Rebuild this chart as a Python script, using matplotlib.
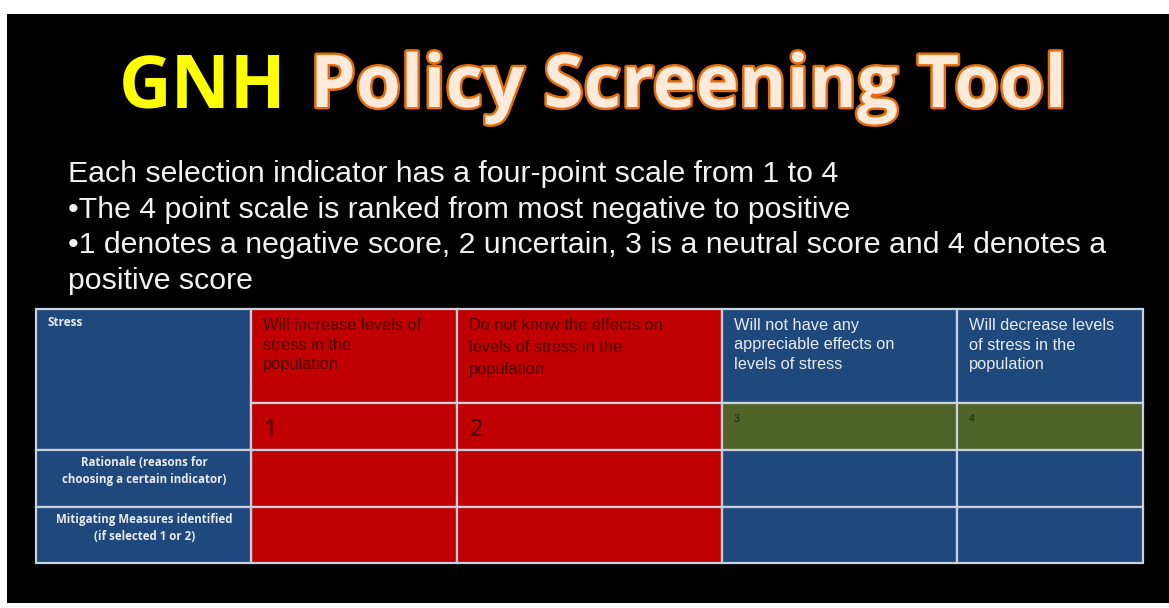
import matplotlib
matplotlib.use("Agg")
import matplotlib.pyplot as plt
from matplotlib.patches import Rectangle
import matplotlib.patheffects as pe

# ---------------- data ----------------
title_a = "GNH"
title_b = "Policy Screening Tool"
bullets = [
    "Each selection indicator has a four-point scale from 1 to 4",
    "\u2022The 4 point scale is ranked from most negative to positive",
    "\u20221 denotes a negative score, 2 uncertain, 3 is a neutral score and 4 denotes a",
    "positive score",
]
indicator = "Stress"
col_headers = [
    ["Will increase levels of", "stress in the", "population"],
    ["Do not know the effects on", "levels of stress in the", "population"],
    ["Will not have any", "appreciable effects on", "levels of stress"],
    ["Will decrease levels", "of stress in the", "population"],
]
scores = ["1", "2", "3", "4"]
row_labels = [
    "Rationale (reasons for\nchoosing a certain indicator)",
    "Mitigating Measures identified\n(if selected 1 or 2)",
]
col_kind = ["neg", "neg", "pos", "pos"]

# ---------------- style / layout ----------------
W, H = 1169, 608
BLUE = "#1F497D"
RED = "#C00000"
GREEN = "#4F6228"
LINE = "#C9D1DE"
col_x = [36, 251, 457, 722, 957, 1143]
row_y = [309, 403, 450, 507, 563]

fig = plt.figure(figsize=(W / 100, H / 100), dpi=100)
fig.patch.set_facecolor("white")
ax = fig.add_axes([0, 0, 1, 1])
ax.set_xlim(0, W)
ax.set_ylim(H, 0)
ax.axis("off")

# black slide background
ax.add_patch(Rectangle((7, 14), W - 7, 589, facecolor="black", edgecolor="none"))
ax.add_patch(Rectangle((11, 603), 1134, 10, facecolor="white", edgecolor="none"))

# title
ax.text(119, 107, title_a, ha="left", va="baseline", fontsize=52.5, fontweight="bold",
        family="Open Sans", color="#FFFF00")
ax.text(1067, 107, title_b, ha="right", va="baseline", fontsize=52.5, fontweight="bold",
        family="Open Sans", color="#FDEADA",
        path_effects=[pe.withStroke(linewidth=3.5, foreground="#E46C0A")])

# bullets
bullet_y = [182, 218, 253, 289]
for t, y in zip(bullets, bullet_y):
    ax.text(68, y, t, ha="left", va="baseline", fontsize=21.8, family="Liberation Sans",
            color="#F2F2F2")

# table cells
def cell(x0, x1, y0, y1, c):
    ax.add_patch(Rectangle((x0, y0), x1 - x0, y1 - y0, facecolor=c,
                           edgecolor=LINE, linewidth=1.6))

cell(col_x[0], col_x[1], row_y[0], row_y[2], BLUE)
for i, k in enumerate(col_kind):
    x0, x1 = col_x[i + 1], col_x[i + 2]
    top = RED if k == "neg" else BLUE
    mid = RED if k == "neg" else GREEN
    cell(x0, x1, row_y[0], row_y[1], top)
    cell(x0, x1, row_y[1], row_y[2], mid)
    for r in range(len(row_labels)):
        cell(x0, x1, row_y[2 + r], row_y[3 + r], top)
for r in range(len(row_labels)):
    cell(col_x[0], col_x[1], row_y[2 + r], row_y[3 + r], BLUE)

# table texts
ax.text(col_x[0] + 12, 323, indicator, ha="left", va="center", fontsize=8.5,
        fontweight="bold", family="Open Sans", color="#E8ECF2")
for i, (lines, k) in enumerate(zip(col_headers, col_kind)):
    c = "#4A0000" if k == "neg" else "#E6EBF2"
    step = 22 if i == 1 else 19.5
    for j, t in enumerate(lines):
        ax.text(col_x[i + 1] + 12, 330 + j * step, t, ha="left", va="baseline",
                fontsize=11.8, family="Liberation Sans", color=c)
for i, (s, k) in enumerate(zip(scores, col_kind)):
    if k == "neg":
        ax.text(col_x[i + 1] + 13, 430, s, ha="left", va="center", fontsize=17,
                family="Open Sans", color="#300000")
    else:
        ax.text(col_x[i + 1] + 12, 419, s, ha="left", va="center", fontsize=7.5,
                family="Liberation Sans", color="#1E2A10")
label_y = [471.5, 528]
for t, y in zip(row_labels, label_y):
    ax.text((col_x[0] + col_x[1]) / 2 + 1, y, t, ha="center", va="center", fontsize=8.3,
            fontweight="bold", family="Open Sans", color="#E8ECF2", linespacing=1.4)

fig.savefig("out.png", dpi=100, facecolor=fig.get_facecolor())
